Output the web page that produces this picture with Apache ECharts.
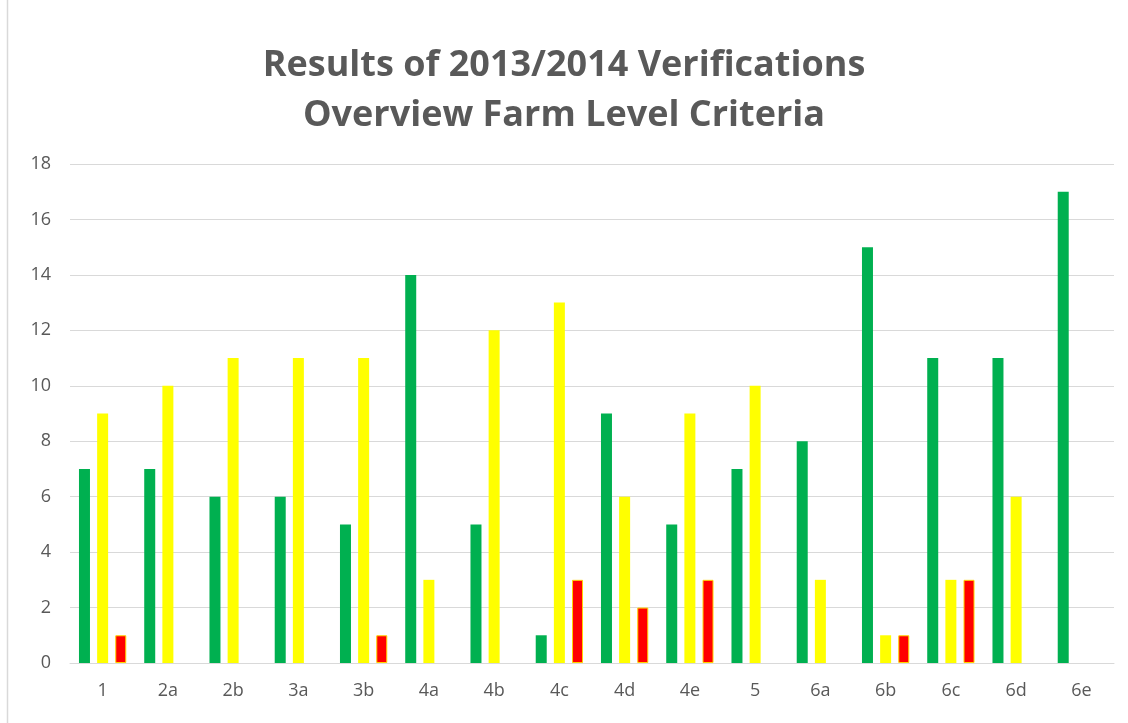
<!DOCTYPE html>
<html><head><meta charset="utf-8">
<script src="https://cdn.jsdelivr.net/npm/echarts@6/dist/echarts.min.js"></script>
<style>html,body{margin:0;padding:0;background:#fff}#c{width:1128px;height:723px}</style>
</head><body><div id="c"></div>
<script>
const categories = ['1','2a','2b','3a','3b','4a','4b','4c','4d','4e','5','6a','6b','6c','6d','6e'];
const greenValues = [7,7,6,6,5,14,5,1,9,5,7,8,15,11,11,17];
const yellowValues = [9,10,11,11,11,3,12,13,6,9,10,3,1,3,6,0];
const redValues = [1,0,0,0,1,0,0,3,2,3,0,0,1,3,0,0];
const yTicks = [0,2,4,6,8,10,12,14,16,18];

const hideZero = arr => arr.map(v => v === 0 ? '-' : v);

const chart = echarts.init(document.getElementById('c'));
const font = '"Open Sans", "Liberation Sans", sans-serif';
chart.setOption({
  animation: false,
  graphic: [{type:'rect', shape:{x:7.5,y:-2,width:1130,height:730}, style:{fill:'none', stroke:'#d9d9d9', lineWidth:1.5}}],
  title: {
    text: 'Results of 2013/2014 Verifications\nOverview Farm Level Criteria',
    left: 'center', top: 36,
    textStyle: {fontFamily: font, fontWeight: 'bold', fontSize: 36, color: '#595959', lineHeight: 50}
  },
  grid: {left: 70, right: 14, top: 164, bottom: 60, containLabel: false},
  xAxis: {
    type: 'category', data: categories,
    axisLine: {lineStyle: {color: '#d9d9d9', width: 1}},
    axisTick: {show: false},
    axisLabel: {fontFamily: font, fontSize: 18, color: '#595959', margin: 19}
  },
  yAxis: {
    type: 'value', min: 0, max: 18, interval: 2,
    axisLine: {show: false}, axisTick: {show: false},
    splitLine: {lineStyle: {color: '#d9d9d9', width: 1}},
    axisLabel: {fontFamily: font, fontSize: 18, color: '#595959', margin: 19,
      formatter: v => yTicks.includes(v) ? String(v) : ''}
  },
  series: [
    {type:'bar', data: hideZero(greenValues), barWidth: 11, barGap: '65%', itemStyle:{color:'#00B050'}},
    {type:'bar', data: hideZero(yellowValues), barWidth: 11, itemStyle:{color:'#FFFF00'}},
    {type:'bar', data: hideZero(redValues), barWidth: 11, itemStyle:{color:'#FF0000', borderColor:'#FFD400', borderWidth:1}}
  ]
});
</script></body></html>
